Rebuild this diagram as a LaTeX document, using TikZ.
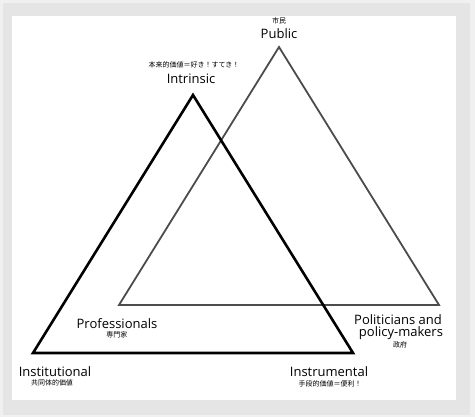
\documentclass[tikz,border=0pt]{standalone}
\usepackage{fontspec}
\setmainfont{Open Sans}
\newfontfamily\jp{Noto Sans CJK JP}
\begin{document}
\begin{tikzpicture}[x=1pt,y=-1pt,
  lab/.style={font=\fontsize{13}{14}\selectfont, inner sep=0pt, align=center},
  jlab/.style={font=\jp\fontsize{7}{8}\selectfont, inner sep=0pt},
  tri/.style={line join=miter}]
\useasboundingbox (0,0) rectangle (475,417);
\fill[gray!12] (0,0) rectangle (475,417);
\fill[gray!20] (3,3) rectangle (470,415);
\fill[white] (12,16) rectangle (456,400);
% gray triangle
\coordinate (pa) at (279,47);
\coordinate (pl) at (119,305);
\coordinate (pr) at (439,305);
\draw[tri, line width=1.8pt, black!70] (pa) -- (pl) -- (pr) -- cycle;
% black triangle
\coordinate (ia) at (193,95);
\coordinate (il) at (33,353);
\coordinate (ir) at (353,353);
\draw[tri, line width=2.6pt, black] (ia) -- (il) -- (ir) -- cycle;
% labels
\node[jlab] (shimin) at (279,21) {市民};
\node[lab] (public) at (279,34) {Public};
\node[jlab] (honrai) at (194,65) {本来的価値＝好き！すてき！};
\node[lab] (intrinsic) at (191,79) {Intrinsic};
\node[lab] (prof) at (117,324) {Professionals};
\node[jlab] (senmon) at (117,335) {専門家};
\node[lab, anchor=base, text depth=0pt] (pol1) at (398,325) {Politicians and};
\node[lab, anchor=base] (pol2) at (401,337) {policy-makers};
\node[jlab] (seifu) at (400,345) {政府};
\node[lab] (inst) at (55,372) {Institutional};
\node[jlab] (kyodo) at (52,383) {共同体的価値};
\node[lab] (instr) at (329,372) {Instrumental};
\node[jlab] (shudan) at (330,384) {手段的価値＝便利！};
\end{tikzpicture}
\end{document}
